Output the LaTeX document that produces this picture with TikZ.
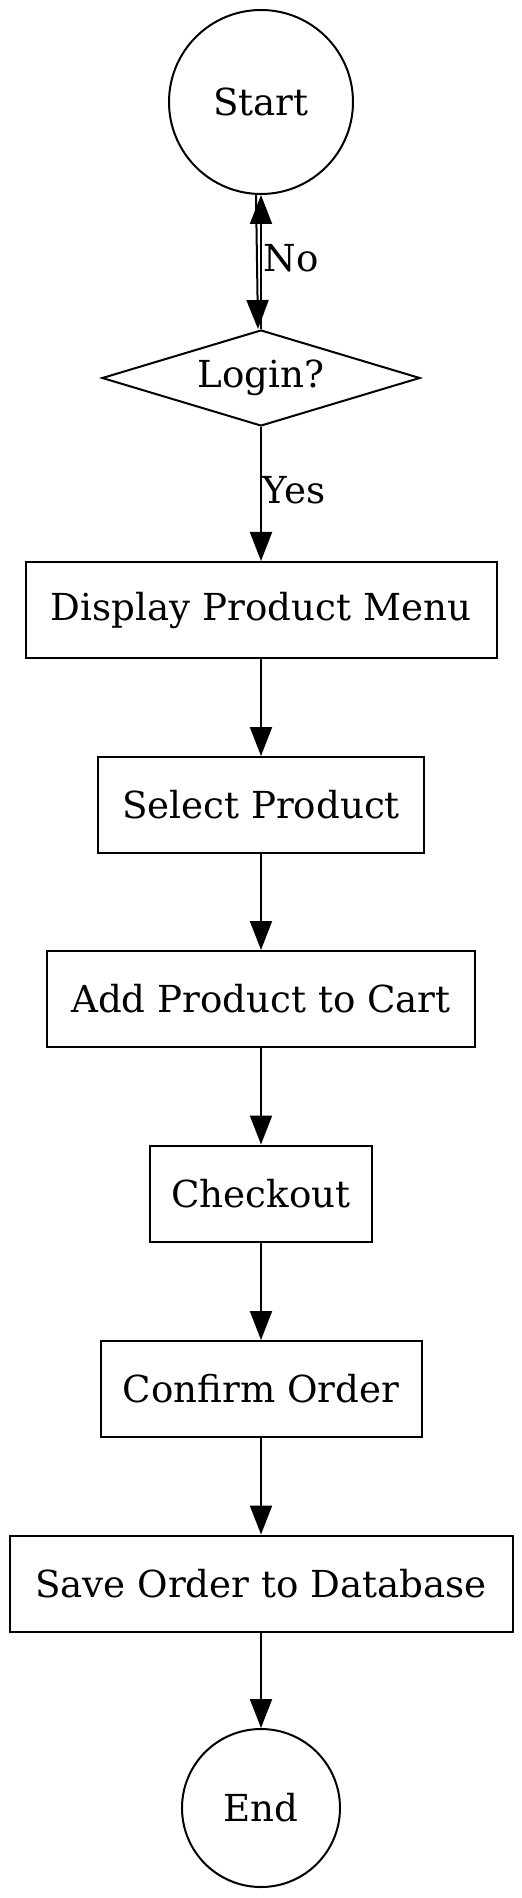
\documentclass[tikz,border=0pt]{standalone}
\usepackage{fontspec}
\setmainfont{DejaVu Serif}
\usetikzlibrary{arrows.meta,shapes.geometric}
\begin{document}
\begin{tikzpicture}[x=0.5pt,y=-0.5pt,
  every node/.style={font=\fontsize{18.6}{22}\selectfont},
  circ/.style={draw,circle,line width=1pt,inner sep=0pt},
  procbox/.style={draw,rectangle,line width=1pt,inner sep=0pt,minimum height=48pt},
  decis/.style={draw,diamond,line width=1pt,inner sep=0pt,aspect=3.3},
  arr/.style={-{Triangle[length=14.5pt,width=11pt]},line width=1pt},
  lbl/.style={inner sep=0pt}]
\useasboundingbox (0,0) rectangle (522,1898);
\node[circ,minimum size=92pt] (start) at (261,102) {Start};
\node[decis,minimum width=159pt,minimum height=48pt] (login) at (261,378) {Login?};
\node[procbox,minimum width=235.5pt] (menu) at (261,610) {Display Product Menu};
\node[procbox,minimum width=163pt] (select) at (261,805) {Select Product};
\node[procbox,minimum width=214pt] (add) at (261,999) {Add Product to Cart};
\node[procbox,minimum width=111pt] (checkout) at (261,1193.5) {Checkout};
\node[procbox,minimum width=160.5pt] (confirm) at (261,1389) {Confirm Order};
\node[procbox,minimum width=251.5pt] (save) at (261,1583.5) {Save Order to Database};
\node[circ,minimum size=79pt] (end) at (261,1808) {End};
\draw[arr] ([xshift=-2.5pt]start.south) -- ([xshift=-1.5pt]login.north);
\draw[arr] (login.north) -- (start.south);
\node[lbl] (no) at (291,258) {No};
\draw[arr] (login) -- (menu);
\node[lbl] (yes) at (294,490) {Yes};
\draw[arr] (menu) -- (select);
\draw[arr] (select) -- (add);
\draw[arr] (add) -- (checkout);
\draw[arr] (checkout) -- (confirm);
\draw[arr] (confirm) -- (save);
\draw[arr] (save) -- (end);
\end{tikzpicture}
\end{document}
